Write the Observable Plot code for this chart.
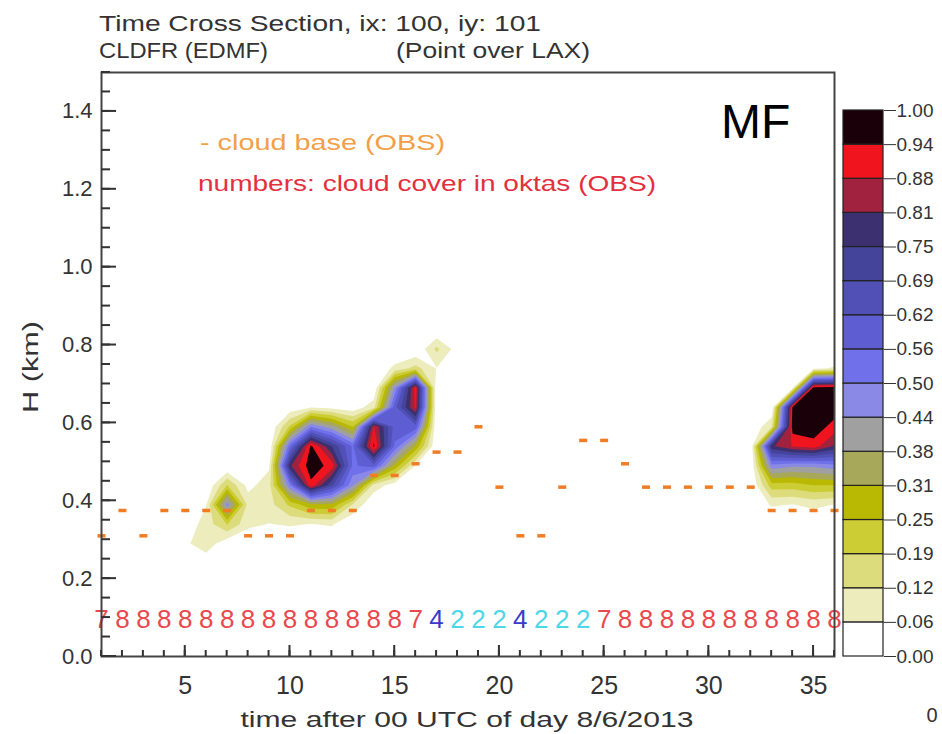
<!DOCTYPE html>
<html><head><meta charset="utf-8">
<script src="https://cdn.jsdelivr.net/npm/d3@7"></script>
<script src="https://cdn.jsdelivr.net/npm/@observablehq/plot@0.6"></script>
<style>
html,body{margin:0;padding:0;background:#fff;}
#chart{position:relative;width:942px;height:734px;overflow:hidden;}
#chart svg{position:absolute;left:0;top:0;}
</style></head><body><div id="chart"></div>
<script>
// ---- data ----
const hours = [1,2,3,4,5,6,7,8,9,10,11,12,13,14,15,16,17,18,19,20,21,22,23,24,25,26,27,28,29,30,31,32,33,34,35,36];
const heights = [0.19,0.24,0.29,0.34,0.39,0.44,0.49,0.54,0.59,0.64,0.69,0.74,0.79,0.84];
// cloud fraction, one row per height (bottom -> top), one column per hour
const cldfr = [
  [0,0,0,0, 0,0,0,0,0,0,0,0,0,0,0,0,0, 0,0,0,0,0,0,0,0,0,0,0,0,0,0,0, 0,0,0,0],
  [0,0,0,0, 0,.02,0,0,0,0,0,0,0,0,0,0,0, 0,0,0,0,0,0,0,0,0,0,0,0,0,0,0, 0,0,0,0],
  [0,0,0,0, .05,.10,.02,0,0,0,0,0,0,0,0,0,0, 0,0,0,0,0,0,0,0,0,0,0,0,0,0,0, 0,0,0,0],
  [0,0,0,0, .02,.09,.19,.08,.06,.07,.06,.07,0,0,0,0,0, 0,0,0,0,0,0,0,0,0,0,0,0,0,0,0, 0,0,0,0],
  [0,0,0,0, 0,.06,.47,.10,.10,.20,.30,.30,.12,0,0,0,0, 0,0,0,0,0,0,0,0,0,0,0,0,0,0,0, .07,.06,.08,.06],
  [0,0,0,0, 0,0,.19,.04,.10,.50,.92,.70,.45,.10,.03,0,0, 0,0,0,0,0,0,0,0,0,0,0,0,0,0,0, .22,.22,.25,.25],
  [0,0,0,0, 0,0,0,0,.05,.80,.98,.91,.55,.60,.30,.06,0, 0,0,0,0,0,0,0,0,0,0,0,0,0,0,0, .48,.45,.45,.48],
  [0,0,0,0, 0,0,0,0,0,.55,.95,.75,.55,.95,.55,.30,0, 0,0,0,0,0,0,0,0,0,0,0,0,0,0,0, .80,.88,.91,.80],
  [0,0,0,0, 0,0,0,0,0,.20,.50,.40,.25,.88,.60,.60,0, 0,0,0,0,0,0,0,0,0,0,0,0,0,0,0, .12,.97,.98,.91],
  [0,0,0,0, 0,0,0,0,0,.02,.06,.04,.02,.10,.60,.89,0, 0,0,0,0,0,0,0,0,0,0,0,0,0,0,0, 0,.95,.99,.98],
  [0,0,0,0, 0,0,0,0,0,0,0,0,0,0,.45,.91,0, 0,0,0,0,0,0,0,0,0,0,0,0,0,0,0, 0,.05,.97,.98],
  [0,0,0,0, 0,0,0,0,0,0,0,0,0,0,.08,.15,.06, 0,0,0,0,0,0,0,0,0,0,0,0,0,0,0, 0,0,.05,.07],
  [0,0,0,0, 0,0,0,0,0,0,0,0,0,0,0,0,.14, .03,0,0,0,0,0,0,0,0,0,0,0,0,0,0, 0,0,0,0],
  [0,0,0,0, 0,0,0,0,0,0,0,0,0,0,0,0,0, 0,0,0,0,0,0,0,0,0,0,0,0,0,0,0, 0,0,0,0]
];
const levels = [0.0625,0.125,0.1875,0.25,0.3125,0.375,0.4375,0.5,0.5625,0.625,0.6875,0.75,0.8125,0.875,0.9375];
const levelBounds = [0,0.0625,0.125,0.1875,0.25,0.3125,0.375,0.4375,0.5,0.5625,0.625,0.6875,0.75,0.8125,0.875,0.9375,1];
const levelLabels = ["0.00","0.06","0.12","0.19","0.25","0.31","0.38","0.44","0.50","0.56","0.62","0.69","0.75","0.81","0.88","0.94","1.00"];
const levelColors = ["#ffffff","#ececbc","#dcdc7c","#cccc34","#b9b904","#a8a85a","#a0a0a0","#8a8ae6","#7070ea","#5e5ed2","#5050b6","#44449a","#3c3070","#a0223e","#f0141e","#1a0008"];
// observed cloud cover (oktas) and cloud base (km) per hour
const oktas = [7,8,8,8,8,8,8,8,8,8,8,8,8,8,8,7,4,2,2,2,4,2,2,2,7,8,8,8,8,8,8,8,8,8,8,8];
const cloudBase = [0.31,0.375,0.31,0.375,0.375,0.375,0.375,0.31,0.31,0.31,0.375,0.375,0.375,0.465,0.465,0.495,0.525,0.525,0.59,0.435,0.31,0.31,0.435,0.555,0.555,0.495,0.435,0.435,0.435,0.435,0.435,0.435,0.375,0.375,0.375,0.375];
const xTicks = [5,10,15,20,25,30,35];
const xTickLabels = ["5","10","15","20","25","30","35"];
const yTicks = [0,0.2,0.4,0.6,0.8,1.0,1.2,1.4];
const yTickLabels = ["0.0","0.2","0.4","0.6","0.8","1.0","1.2","1.4"];

// ---- rendering ----
const FONT = "'Liberation Sans', Arial, sans-serif";
const W = 942, H = 734;
const M = {left: 101, right: 108, top: 72, bottom: 78};
const chart = document.getElementById("chart");
const grid = cldfr.flat();
const dh = heights[1] - heights[0];
const baseData = hours.map((h, i) => ({hour: h, base: cloudBase[i]}));
const oktaData = hours.map((h, i) => ({hour: h, okta: oktas[i]}));
const dashSymbol = {draw(ctx) { ctx.rect(-4, -1.75, 8, 3.5); }};
const yMinor = d3.range(0, 1.5001, 0.05);

const main = Plot.plot({
  width: W, height: H,
  marginLeft: M.left, marginRight: M.right, marginTop: M.top, marginBottom: M.bottom,
  style: {fontFamily: FONT, color: "#333", background: "transparent", overflow: "visible"},
  x: {domain: [1, 36], axis: null},
  y: {domain: [0, 1.5], axis: null},
  color: {type: "threshold", domain: levels, range: levelColors},
  marks: [
    Plot.contour(grid, {
      width: hours.length, height: heights.length,
      x1: hours[0] - 0.5, x2: hours[hours.length - 1] + 0.5,
      y1: heights[0] - dh / 2, y2: heights[heights.length - 1] + dh / 2,
      thresholds: levels, fill: Plot.identity, clip: true
    }),
    Plot.dot(baseData, {x: "hour", y: "base", symbol: dashSymbol, fill: "#f07d24", r: 4}),
    Plot.text(oktaData, {filter: d => d.okta >= 7, x: "hour", frameAnchor: "bottom", dy: -29, text: d => String(d.okta), fill: "#e9484c", fontSize: 26}),
    Plot.text(oktaData, {filter: d => d.okta === 4, x: "hour", frameAnchor: "bottom", dy: -29, text: d => String(d.okta), fill: "#3a3acb", fontSize: 26}),
    Plot.text(oktaData, {filter: d => d.okta === 2, x: "hour", frameAnchor: "bottom", dy: -29, text: d => String(d.okta), fill: "#4cd7e8", fontSize: 26}),
    Plot.axisX({ticks: xTicks, anchor: "bottom", tickSize: 0, tickPadding: 20, fontSize: 25, label: null, tickFormat: d => xTickLabels[xTicks.indexOf(d)]}),
    Plot.axisY({ticks: yTicks, anchor: "left", tickSize: 0, tickPadding: 9, fontSize: 22, label: null, tickFormat: d => yTickLabels[yTicks.indexOf(d)]}),
    Plot.frame({stroke: "#444", strokeWidth: 2})
  ]
});
chart.appendChild(main);

const bins = levelColors.map((c, i) => ({lo: levelBounds[i], hi: levelBounds[i + 1], color: c}));
const bar = Plot.plot({
  width: W, height: H,
  marginLeft: 843, marginRight: 59, marginTop: 110, marginBottom: 78,
  style: {fontFamily: FONT, color: "#333", background: "transparent", overflow: "visible"},
  x: {domain: [0, 1], axis: null},
  y: {domain: [0, 1]},
  marks: [
    Plot.rect(bins, {y1: "lo", y2: "hi", fill: "color", stroke: "#222", strokeWidth: 1.2}),
    Plot.axisY({ticks: levelBounds, anchor: "right", tickSize: 12, tickPadding: 1, fontSize: 19, label: null,
      tickFormat: d => levelLabels[levelBounds.indexOf(d)]})
  ]
});
chart.appendChild(bar);

// inward tick marks, placed with the main plot's x/y scale definitions, on the top layer
const xsDef = main.scale("x"), ysDef = main.scale("y");
const pxScale = d3.scaleLinear(xsDef.domain, xsDef.range);
const pyScale = d3.scaleLinear(ysDef.domain, ysDef.range);
const frameLeft = M.left, frameBottom = H - M.bottom;
const overlaySel = d3.select(bar);
const tickGroup = overlaySel.append("g").attr("fill", "#333");
hours.forEach(h => tickGroup.append("rect").attr("x", pxScale(h) - 1).attr("y", frameBottom - 6).attr("width", 2).attr("height", 6));
xTicks.forEach(h => tickGroup.append("rect").attr("x", pxScale(h) - 1).attr("y", frameBottom - 11).attr("width", 2).attr("height", 11));
yMinor.forEach(v => tickGroup.append("rect").attr("x", frameLeft).attr("y", pyScale(v) - 1).attr("width", 9).attr("height", 2));
yTicks.forEach(v => tickGroup.append("rect").attr("x", frameLeft).attr("y", pyScale(v) - 1).attr("width", 15).attr("height", 2));

// ---- titles and annotations ----
const mainSel = d3.select(main);
function addText(t, x, y, opts = {}) {
  const el = mainSel.append("text").attr("x", x).attr("y", y).text(t)
    .attr("font-family", opts.family || FONT)
    .attr("font-size", opts.size || 22)
    .attr("fill", opts.fill || "#333")
    .attr("text-anchor", opts.anchor || "start");
  if (opts.width) el.attr("textLength", opts.width).attr("lengthAdjust", "spacingAndGlyphs");
  if (opts.rotate) el.attr("transform", `rotate(${opts.rotate},${x},${y})`);
  return el;
}
addText("Time Cross Section, ix: 100, iy: 101", 99, 31, {width: 442});
addText("CLDFR (EDMF)", 99, 58, {width: 169});
addText("(Point over LAX)", 396, 58, {width: 194});
addText("- cloud base (OBS)", 200, 150, {fill: "#f2a048", width: 245});
addText("numbers: cloud cover in oktas (OBS)", 198, 191, {fill: "#e4303e", width: 458});
addText("MF", 721, 138, {fill: "#000", size: 48, family: "Arial, 'Liberation Sans', sans-serif"});
addText("H (km)", 38, 367, {anchor: "middle", rotate: -90, width: 92});
addText("time after 00 UTC of day 8/6/2013", 467, 727, {anchor: "middle", width: 453});
addText("0", 932, 722, {anchor: "middle", size: 20});
</script></body></html>
